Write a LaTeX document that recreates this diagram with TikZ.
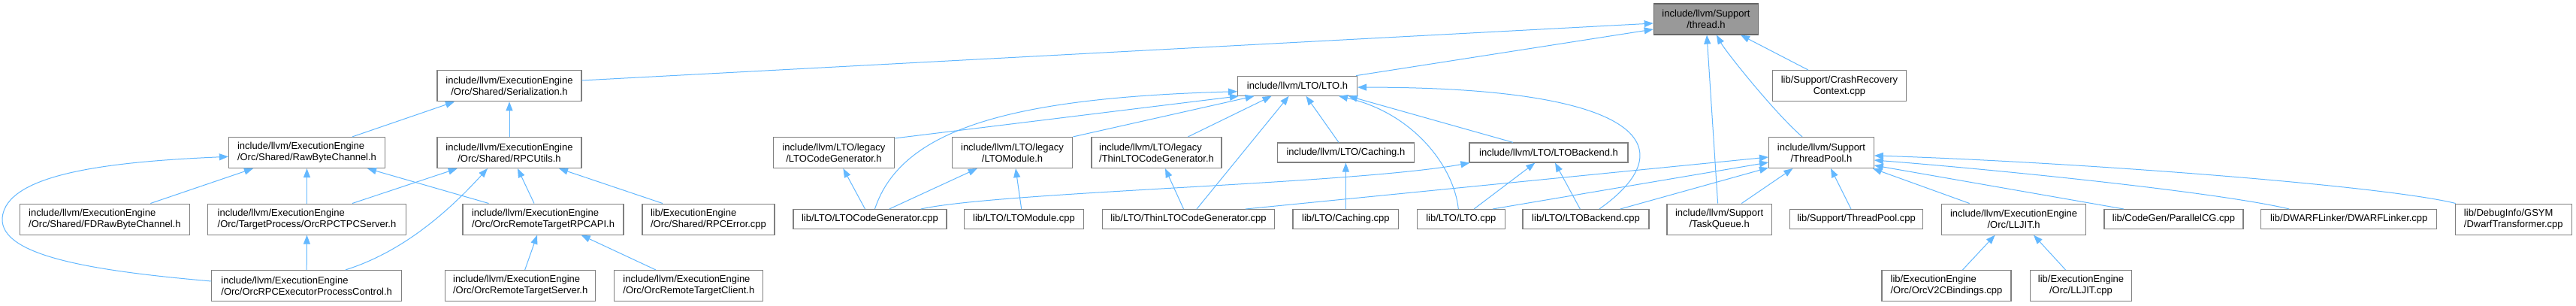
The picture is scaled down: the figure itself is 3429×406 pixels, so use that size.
\documentclass[tikz,border=0pt]{standalone}
\usepackage{fontspec}
\setmainfont{Liberation Sans}
\usetikzlibrary{arrows.meta}
\definecolor{edgeblue}{HTML}{63B8FF}
\definecolor{boxdraw}{HTML}{808080}
\definecolor{rootfill}{HTML}{999999}
\definecolor{rootdraw}{HTML}{666666}
\begin{document}
\begin{tikzpicture}[x=1bp,y=1bp,
  box/.style={draw=boxdraw, fill=white, line width=1.2bp, inner sep=0pt,
    font=\fontsize{13bp}{15bp}\selectfont},
  boxtwo/.style={box, minimum height=41bp, align=center},
  boxtwol/.style={box, minimum height=41bp, align=left},
  boxone/.style={box, minimum height=26bp},
  rootbox/.style={boxtwo, fill=rootfill, draw=rootdraw},
  dep/.style={draw=edgeblue, line width=1bp, -{Triangle[length=12bp,width=9bp]}}]
\fill[white] (0,0) rectangle (3429,406);
\useasboundingbox (0,0) rectangle (3429,406);
% row 0
\node[rootbox, minimum width=139.5bp] (thread) at (2271,380.5) {include/llvm/Support\\/thread.h};
% row 1
\node[boxtwo, minimum width=192bp] (ser) at (678,291.8) {include/llvm/ExecutionEngine\\/Orc/Shared/Serialization.h};
\node[boxtwo, minimum width=178bp] (crash) at (2448.5,291.8) {lib/Support/CrashRecovery\\Context.cpp};
\node[boxone, minimum width=159bp] (lto) at (1727,291.8) {include/llvm/LTO/LTO.h};
% row 2
\node[boxtwol, minimum width=208bp] (raw) at (408.5,203) {include/llvm/ExecutionEngine\\/Orc/Shared/RawByteChannel.h};
\node[boxtwo, minimum width=192bp] (rpcu) at (678,203) {include/llvm/ExecutionEngine\\/Orc/Shared/RPCUtils.h};
\node[boxtwo, minimum width=161.5bp] (lcgh) at (1110,203) {include/llvm/LTO/legacy\\/LTOCodeGenerator.h};
\node[boxtwo, minimum width=160.7bp] (llm) at (1347.5,203) {include/llvm/LTO/legacy\\/LTOModule.h};
\node[boxtwol, minimum width=173bp] (ltlh) at (1539.5,203) {include/llvm/LTO/legacy\\/ThinLTOCodeGenerator.h};
\node[boxone, minimum width=182bp] (cach) at (1791.4,203) {include/llvm/LTO/Caching.h};
\node[boxone, minimum width=211bp] (lbh) at (2061.5,203) {include/llvm/LTO/LTOBackend.h};
\node[boxtwo, minimum width=139.7bp] (tp) at (2424.4,203) {include/llvm/Support\\/ThreadPool.h};
% row 3
\node[boxtwol, minimum width=226bp] (fd) at (139.4,114.4) {include/llvm/ExecutionEngine\\/Orc/Shared/FDRawByteChannel.h};
\node[boxtwol, minimum width=264bp] (tpc) at (408.5,114.4) {include/llvm/ExecutionEngine\\/Orc/TargetProcess/OrcRPCTPCServer.h};
\node[boxtwol, minimum width=214bp] (rpcapi) at (723,114.4) {include/llvm/ExecutionEngine\\/Orc/OrcRemoteTargetRPCAPI.h};
\node[boxtwol, minimum width=176bp] (rpcerr) at (943,114.4) {lib/ExecutionEngine\\/Orc/Shared/RPCError.cpp};
\node[boxone, minimum width=204bp] (lcgcpp) at (1158,114.4) {lib/LTO/LTOCodeGenerator.cpp};
\node[boxone, minimum width=158.4bp] (lmcpp) at (1363,114.4) {lib/LTO/LTOModule.cpp};
\node[boxone, minimum width=229bp] (tlcpp) at (1582,114.4) {lib/LTO/ThinLTOCodeGenerator.cpp};
\node[boxone, minimum width=140.7bp] (ccpp) at (1791.4,114.4) {lib/LTO/Caching.cpp};
\node[boxone, minimum width=117bp] (ltocpp) at (1944.8,114.4) {lib/LTO/LTO.cpp};
\node[boxone, minimum width=168bp] (lbcpp) at (2111,114.4) {lib/LTO/LTOBackend.cpp};
\node[boxtwo, minimum width=139.3bp] (tq) at (2288.6,114.4) {include/llvm/Support\\/TaskQueue.h};
\node[boxone, minimum width=177bp] (tpcpp) at (2471,114.4) {lib/Support/ThreadPool.cpp};
\node[boxtwo, minimum width=191.7bp] (lljh) at (2680.6,114.4) {include/llvm/ExecutionEngine\\/Orc/LLJIT.h};
\node[boxone, minimum width=185bp] (pcg) at (2893.5,114.4) {lib/CodeGen/ParallelCG.cpp};
\node[boxone, minimum width=234bp] (dwl) at (3126.8,114.4) {lib/DWARFLinker/DWARFLinker.cpp};
\node[boxtwol, minimum width=155bp] (dwt) at (3345.8,114.4) {lib/DebugInfo/GSYM\\/DwarfTransformer.cpp};
% row 4
\node[boxtwol, minimum width=253bp] (epc) at (408.2,26) {include/llvm/ExecutionEngine\\/Orc/OrcRPCExecutorProcessControl.h};
\node[boxtwol, minimum width=200bp] (rts) at (692.7,26) {include/llvm/ExecutionEngine\\/Orc/OrcRemoteTargetServer.h};
\node[boxtwol, minimum width=198bp] (rtc) at (916.8,26) {include/llvm/ExecutionEngine\\/Orc/OrcRemoteTargetClient.h};
\node[boxtwol, minimum width=172bp] (v2c) at (2591,26) {lib/ExecutionEngine\\/Orc/OrcV2CBindings.cpp};
\node[boxtwo, minimum width=135.4bp] (lljcpp) at (2770,26) {lib/ExecutionEngine\\/Orc/LLJIT.cpp};
% edges to thread.h
\draw[dep] ([yshift=7.2bp]ser.east) -- ([yshift=-5.5bp]thread.west);
\draw[dep] ([xshift=-2bp]lto.north east) -- ([yshift=-13.5bp]thread.west);
\draw[dep] ([xshift=-41.5bp]crash.north) -- ([xshift=46bp]thread.south);
\draw[dep] ([xshift=-25.4bp]tp.north) .. controls (2365,253) and (2298,336) .. ([xshift=14bp]thread.south);
\draw[dep] ([xshift=-2bp]tq.north) -- ([xshift=1bp]thread.south);
% Serialization
\draw[dep] ([xshift=60.5bp]raw.north) -- ([xshift=-73bp]ser.south);
\draw[dep] (rpcu.north) -- (ser.south);
% RawByteChannel
\draw[dep] ([xshift=61bp]fd.north) -- ([xshift=-71.5bp]raw.south);
\draw[dep] (tpc.north) -- (raw.south);
\draw[dep] ([xshift=-72.5bp]rpcapi.north) -- ([xshift=80.5bp]raw.south);
\draw[dep] ([yshift=6bp]epc.west) .. controls (120,46) and (0,66) .. (3,116) .. controls (8,176) and (150,191) .. ([yshift=-5.3bp]raw.west);
% RPCUtils
\draw[dep] ([xshift=60.5bp]tpc.north) -- ([xshift=-69.3bp]rpcu.south);
\draw[dep] ([xshift=51.8bp]epc.north) .. controls (520,66) and (580,106) .. ([xshift=-29bp]rpcu.south);
\draw[dep] ([xshift=-12bp]rpcapi.north) -- ([xshift=11bp]rpcu.south);
\draw[dep] ([xshift=-61bp]rpcerr.north) -- ([xshift=66bp]rpcu.south);
% TPCServer, RPCAPI
\draw[dep] (epc.north) -- (tpc.south);
\draw[dep] ([xshift=6bp]rts.north) -- ([xshift=-8bp]rpcapi.south);
\draw[dep] ([xshift=-44bp]rtc.north) -- ([xshift=50.7bp]rpcapi.south);
% LTO.h
\draw[dep] ([yshift=-2bp]lcgh.north east) -- ([xshift=2bp]lto.south west);
\draw[dep] ([xshift=6.5bp]lcgcpp.north) .. controls (1200,236) and (1350,276) .. ([yshift=-7.5bp]lto.west);
\draw[dep] (llm.north east) -- ([xshift=-57.4bp]lto.south);
\draw[dep] ([xshift=42bp]ltlh.north) -- ([xshift=-34.4bp]lto.south);
\draw[dep] ([xshift=11bp]tlcpp.north) -- ([xshift=-11.4bp]lto.south);
\draw[dep] ([xshift=-9.4bp]cach.north) -- ([xshift=11.5bp]lto.south);
\draw[dep] ([xshift=-3.5bp]ltocpp.north) .. controls (1935,186) and (1880,256) .. ([xshift=55bp]lto.south);
\draw[dep] ([xshift=-47.5bp]lbh.north) -- ([xshift=68bp]lto.south);
\draw[dep] ([xshift=17.8bp]lbcpp.north) .. controls (2240,206) and (2200,290) .. ([yshift=-1.9bp]lto.east);
% legacy headers
\draw[dep] ([xshift=-6.5bp]lcgcpp.north) -- ([xshift=12.4bp]lcgh.south);
\draw[dep] ([xshift=25.7bp]lcgcpp.north) -- ([xshift=-46.7bp]llm.south);
\draw[dep] ([xshift=-3.3bp]lmcpp.north) -- ([xshift=4.5bp]llm.south);
\draw[dep] ([xshift=-6.5bp]tlcpp.north) -- ([xshift=11.5bp]ltlh.south);
\draw[dep] (ccpp.north) -- (cach.south);
% LTOBackend.h
\draw[dep] ([xshift=67.7bp]lcgcpp.north) .. controls (1330,151) and (1800,161) .. ([xshift=1bp]lbh.south west);
\draw[dep] ([xshift=17.2bp]ltocpp.north) -- ([xshift=-18.2bp]lbh.south);
\draw[dep] ([xshift=-7.7bp]lbcpp.north) -- ([xshift=8.5bp]lbh.south);
% ThreadPool.h
\draw[dep] ([xshift=76bp]tlcpp.north) -- ([yshift=-6bp]tp.west);
\draw[dep] ([xshift=42bp]ltocpp.north) -- ([yshift=-13bp]tp.west);
\draw[dep] ([xshift=45.7bp]lbcpp.north) -- ([yshift=1bp]tp.south west);
\draw[dep] ([xshift=29.7bp]tq.north) -- ([xshift=-38bp]tp.south);
\draw[dep] ([xshift=-7bp]tpcpp.north) -- ([xshift=12.6bp]tp.south);
\draw[dep] ([xshift=-59bp]lljh.north) -- ([xshift=-2bp]tp.south east);
\draw[dep] ([xshift=-66.5bp]pcg.north) -- ([yshift=-17bp]tp.east);
\draw[dep] ([xshift=-79.5bp]dwl.north) .. controls (2950,151) and (2650,181) .. ([yshift=-10bp]tp.east);
\draw[dep] ([xshift=1bp]dwt.north west) .. controls (3169,160) and (2750,191) .. ([yshift=-4bp]tp.east);
% LLJIT.h
\draw[dep] ([xshift=21.5bp]v2c.north) -- ([xshift=-25bp]lljh.south);
\draw[dep] ([xshift=-20.5bp]lljcpp.north) -- ([xshift=26.4bp]lljh.south);
\end{tikzpicture}
\end{document}
